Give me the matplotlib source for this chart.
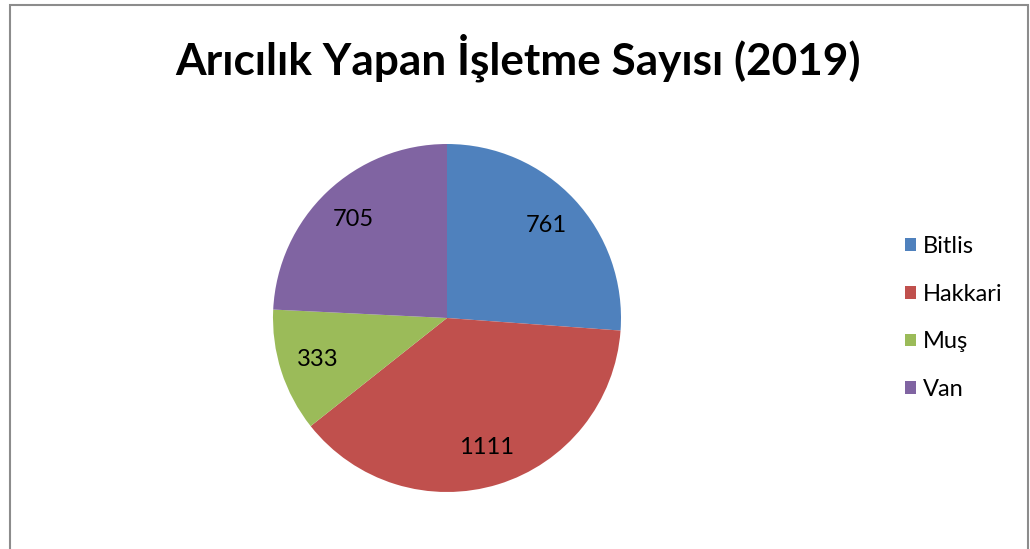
import matplotlib.pyplot as plt
from matplotlib.patches import Rectangle

plt.rcParams['font.family'] = ['Lato', 'DejaVu Sans']

# data
provinces = ['Bitlis', 'Hakkari', 'Muş', 'Van']
counts = [761, 1111, 333, 705]
colors = ['#4F81BD', '#C0504D', '#9BBB59', '#8064A2']

W, H = 1030, 549
fig = plt.figure(figsize=(W / 100, H / 100), dpi=100)

# chart area border (bottom edge runs off the image)
fig.add_artist(Rectangle((9.5 / W, -0.05), (1028 - 9.5) / W, 1.05 - 4.5 / H,
                         transform=fig.transFigure, fill=False,
                         edgecolor='#8c8c8c', linewidth=1.5))

cx, cy, r = 447, 318, 174
ax = fig.add_axes([(cx - r) / W, (H - cy - r) / H, 2 * r / W, 2 * r / H])
wedges, texts, autotexts = ax.pie(
    counts, colors=colors, startangle=90, counterclock=False, radius=1,
    autopct=lambda p: '{:.0f}'.format(p * sum(counts) / 100),
    pctdistance=0.78, textprops={'fontsize': 17, 'color': 'black'},
    wedgeprops={'linewidth': 0})
ax.set_xlim(-1, 1)
ax.set_ylim(-1, 1)
ax.set_aspect('equal')
ax.axis('off')

fig.text(518 / W, 1 - 58 / H, 'Arıcılık Yapan İşletme Sayısı (2019)',
         ha='center', va='center', fontsize=31.8, fontweight='bold')

fig.legend(wedges, provinces, loc='center left',
           bbox_to_anchor=(905 / W, 1 - 318 / H), frameon=False,
           borderaxespad=0, borderpad=0,
           fontsize=17, handlelength=0.45, handleheight=0.45,
           handletextpad=0.3, labelspacing=1.13)

fig.savefig('out.png', dpi=100)
